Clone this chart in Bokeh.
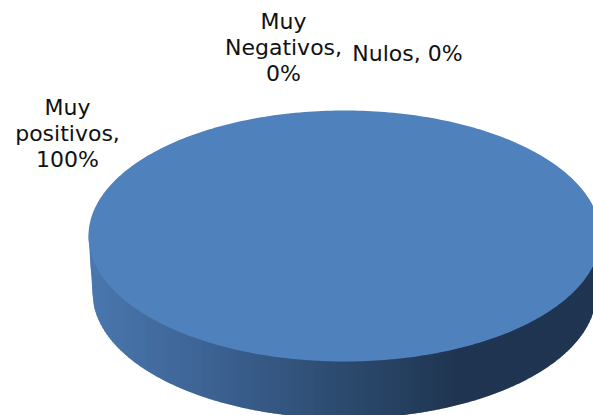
import numpy as np
from bokeh.core.properties import value
from bokeh.embed import file_html
from bokeh.models import Range1d
from bokeh.plotting import figure
from bokeh.resources import INLINE

# Share of comments per category
categories = ["Muy positivos", "Muy Negativos", "Nulos"]
shares = [100, 0, 0]
label_lines = [["Muy", "positivos,"], ["Muy", "Negativos,"], ["Nulos,"]]

# Pie geometry in screen pixels; the lower rim is slightly narrower than the top face
W, H = 593, 415
CX, CY, RX, RY = 344, 235.5, 256, 125.5
LOW_CY, LOW_RX, LOW_RY = 292, 252, 126
TOP_COLOR = "#4f81bd"

p = figure(width=W, height=H, output_backend="svg", toolbar_location=None,
           x_range=Range1d(0, W), y_range=Range1d(H, 0), min_border=0)
p.axis.visible = False
p.grid.visible = False
p.outline_line_color = None
p.background_fill_color = "white"
p.border_fill_color = "white"


def side_color(x):
    """Side wall shading: lighter on the left, darkening towards the right."""
    stops_x = [88, 220, 347, 460, 593]
    stops_r = [0x4a, 0x3c, 0x2c, 0x1f, 0x1f]
    stops_g = [0x78, 0x61, 0x4a, 0x35, 0x35]
    stops_b = [0xaf, 0x90, 0x6e, 0x50, 0x50]
    return "#%02x%02x%02x" % (int(np.interp(x, stops_x, stops_r)),
                              int(np.interp(x, stops_x, stops_g)),
                              int(np.interp(x, stops_x, stops_b)))


def lower_edge(x):
    """Bottom outline of the wall, with a short taper where it meets the top face."""
    u = np.clip((x - CX) / LOW_RX, -1, 1)
    y = LOW_CY + LOW_RY * np.sqrt(1 - u ** 2)
    left_limit = CX - LOW_RX
    taper = CY + (LOW_CY - CY) * (x - (CX - RX)) / (left_limit - (CX - RX))
    return np.where(x < left_limit, taper, y)


# Side wall built from narrow vertical strips that overlap to hide seams
right = min(CX + RX, W)
edges = np.arange(CX - RX, right + 2, 2.0)
xs, ys, colors = [], [], []
for x0, x1 in zip(edges[:-1], edges[1:]):
    strip = np.linspace(x0, min(x1 + 1, right), 4)
    rim = CY + RY * np.sqrt(np.clip(1 - ((strip - CX) / RX) ** 2, 0, 1))
    xs.append(np.concatenate([strip, strip[::-1]]).tolist())
    ys.append(np.concatenate([rim - 3, lower_edge(strip)[::-1]]).tolist())
    colors.append(side_color((x0 + x1) / 2))
p.patches(xs, ys, fill_color=colors, line_color=None)

# Top face: one elliptical slice per category, sweep taken from its share
total = sum(shares)
start = -np.pi / 2
for share in shares:
    sweep = 2 * np.pi * share / total
    if sweep == 0:
        continue
    t = np.linspace(start, start + sweep, 361)
    sx = CX + RX * np.cos(t)
    sy = CY + RY * np.sin(t)
    if share != total:
        sx = np.append(sx, CX)
        sy = np.append(sy, CY)
    p.patch(sx.tolist(), sy.tolist(), fill_color=TOP_COLOR, line_color=None)
    start += sweep

# Data labels, one text per line
anchors = [(67, 106.5), (283, 20.5), (407, 52.5)]
LINE_STEP = 26
for lines, share, (ax, ay), cat in zip(label_lines, shares, anchors, categories):
    if cat == "Nulos":
        rows = [f"{lines[0]} {share}%"]
    else:
        rows = lines + [f"{share}%"]
    p.text([ax] * len(rows), [ay + i * LINE_STEP for i in range(len(rows))], text=rows,
           text_font=value("DejaVu Sans"), text_font_size="22px", text_color="#111111",
           text_align="center", text_baseline="middle")

open("out.html", "w").write(file_html(p, INLINE))
